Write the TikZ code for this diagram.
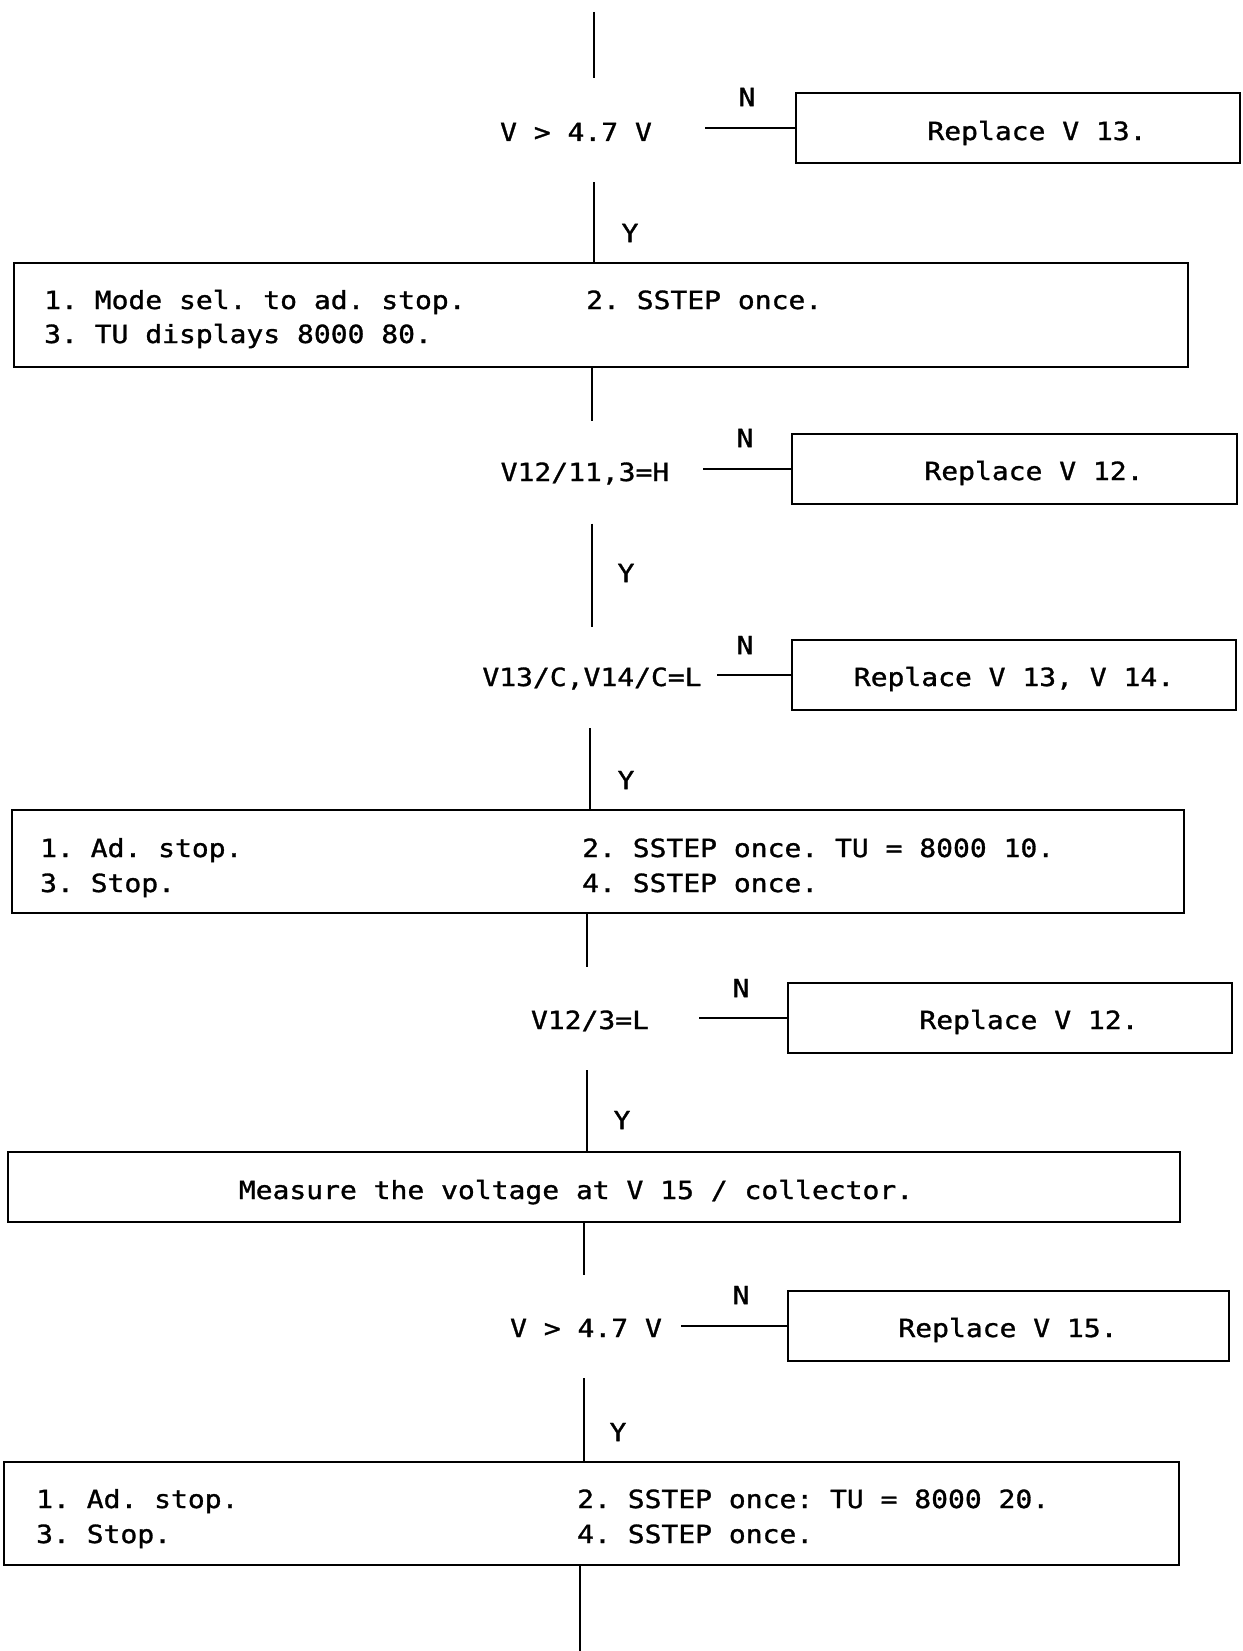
\documentclass[tikz,border=0pt]{standalone}
\usepackage{fontspec}
\newfontfamily\plotfont{DejaVu Sans Mono}[FakeStretch=1.12,FakeBold=1.2]
\frenchspacing
\begin{document}
\frenchspacing
\begin{tikzpicture}[x=1pt,y=-1pt,
  every node/.style={font=\plotfont\fontsize{25}{30}\selectfont},
  box/.style={draw, line width=2.2pt, inner sep=0pt, outer sep=0pt, rectangle},
  dec/.style={inner sep=0pt, outer sep=0pt, minimum width=0pt},
  lbl/.style={inner sep=0pt},
  txt/.style={inner sep=0pt, anchor=base west},
  ctxt/.style={inner sep=0pt, anchor=base},
  link/.style={line width=2pt}]
\useasboundingbox (0,0) rectangle (1242,1651);

% ---- decision 1
\coordinate (top) at (594,12);
\node[dec, minimum height=104pt] (d1) at (594,130) {};
\node[ctxt] (t1) at (576,141) {V > 4.7 V};
\node[lbl] (n1) at (747,97) {N};
\coordinate (h1) at (705,128);
\node[box, minimum width=444pt, minimum height=70pt] (r1) at (1018,128) {};
\node[ctxt] (rt1) at (1037,140) {Replace V 13.};
\node[lbl] (y1) at (630,233) {Y};

% ---- step box A
\node[box, minimum width=1174pt, minimum height=104pt] (A) at (601,315) {};
\node[txt] (a1) at (44,309) {1. Mode sel. to ad. stop.};
\node[txt] (a2) at (586,309) {2. SSTEP once.};
\node[txt] (a3) at (44,343) {3. TU displays 8000 80.};

% ---- decision 2
\node[dec, minimum height=103pt] (d2) at (592,472) {};
\node[ctxt] (t2) at (585,481) {V12/11,3=H};
\node[lbl] (n2) at (745,438) {N};
\coordinate (h2) at (703,469);
\node[box, minimum width=445pt, minimum height=70pt] (r2) at (1014.5,469) {};
\node[ctxt] (rt2) at (1034,480) {Replace V 12.};
\node[lbl] (y2) at (626,573) {Y};

% ---- decision 3
\node[dec, minimum height=101pt] (d3) at (590,677.5) {};
\node[ctxt] (t3) at (592,686) {V13/C,V14/C=L};
\node[lbl] (n3) at (745,645) {N};
\coordinate (h3) at (717,675);
\node[box, minimum width=444pt, minimum height=70pt] (r3) at (1014,675) {};
\node[ctxt] (rt3) at (1014,686) {Replace V 13, V 14.};
\node[lbl] (y3) at (626,780) {Y};

% ---- step box B
\node[box, minimum width=1172pt, minimum height=103pt] (B) at (598,861.5) {};
\node[txt] (b1) at (40,857) {1. Ad. stop.};
\node[txt] (b2) at (582,857) {2. SSTEP once. TU = 8000 10.};
\node[txt] (b3) at (40,892) {3. Stop.};
\node[txt] (b4) at (582,892) {4. SSTEP once.};

% ---- decision 4
\node[dec, minimum height=103pt] (d4) at (587,1018.5) {};
\node[ctxt] (t4) at (590,1029) {V12/3=L};
\node[lbl] (n4) at (741,988) {N};
\coordinate (h4) at (699,1018);
\node[box, minimum width=444pt, minimum height=70pt] (r4) at (1010,1018) {};
\node[ctxt] (rt4) at (1029,1029) {Replace V 12.};
\node[lbl] (y4) at (622,1120) {Y};

% ---- step box C
\node[box, minimum width=1172pt, minimum height=70pt] (C) at (594,1187) {};
\node[ctxt] (c1) at (576,1199) {Measure the voltage at V 15 / collector.};

% ---- decision 5
\node[dec, minimum height=103pt] (d5) at (584,1326.5) {};
\node[ctxt] (t5) at (586,1337) {V > 4.7 V};
\node[lbl] (n5) at (741,1295) {N};
\coordinate (h5) at (681,1326);
\node[box, minimum width=441pt, minimum height=70pt] (r5) at (1008.5,1326) {};
\node[ctxt] (rt5) at (1008,1337) {Replace V 15.};
\node[lbl] (y5) at (618,1432) {Y};

% ---- step box D
\node[box, minimum width=1175pt, minimum height=103pt] (D) at (591.5,1513.5) {};
\node[txt] (e1) at (36,1508) {1. Ad. stop.};
\node[txt] (e2) at (577,1508) {2. SSTEP once: TU = 8000 20.};
\node[txt] (e3) at (36,1543) {3. Stop.};
\node[txt] (e4) at (577,1543) {4. SSTEP once.};
\coordinate (bot) at (580,1651);

% ---- connectors
\draw[link] (top) -- (d1.north);
\draw[link] (d1.south) -- (d1.south |- A.north);
\draw[link] (d2.north |- A.south) -- (d2.north);
\draw[link] (d2.south) -- (d2.south |- d3.north);
\draw[link] (d3.south) -- (d3.south |- B.north);
\draw[link] (d4.north |- B.south) -- (d4.north);
\draw[link] (d4.south) -- (d4.south |- C.north);
\draw[link] (d5.north |- C.south) -- (d5.north);
\draw[link] (d5.south) -- (d5.south |- D.north);
\draw[link] (bot |- D.south) -- (bot);

\draw[link] (h1) -- (r1.west);
\draw[link] (h2) -- (r2.west);
\draw[link] (h3) -- (r3.west);
\draw[link] (h4) -- (r4.west);
\draw[link] (h5) -- (r5.west);
\end{tikzpicture}
\end{document}
